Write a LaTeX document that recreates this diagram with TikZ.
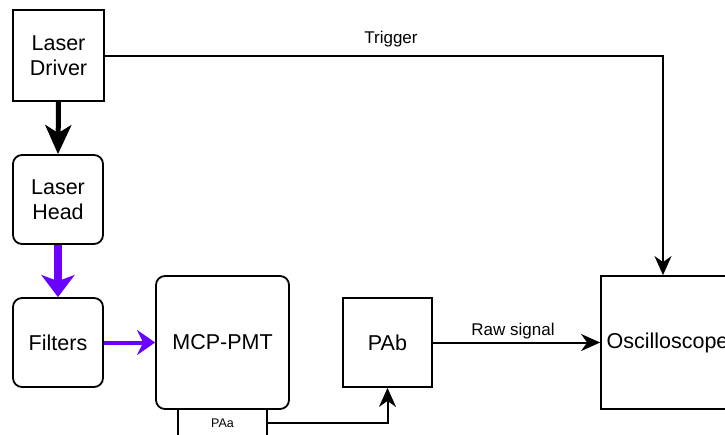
\documentclass[tikz,border=0pt]{standalone}
\usepackage{fontspec}
\setmainfont{Liberation Sans}
\usetikzlibrary{arrows.meta}
\definecolor{violetbeam}{HTML}{6A00FF}
\begin{document}
\begin{tikzpicture}[x=1pt,y=-1pt,
  box/.style={draw, line width=1.8pt, align=center, inner sep=0pt, font=\fontsize{21.5}{25}\selectfont},
  rbox/.style={box, rounded corners=9pt},
  lbl/.style={font=\fontsize{17}{20}\selectfont, inner sep=0pt},
  conn/.style={line width=2pt, -{Stealth[length=19pt,width=17pt,inset=6pt]}},
  thickarr/.style={line width=5pt, -{Stealth[length=29pt,width=26pt,inset=8pt]}},
  beam/.style={color=violetbeam}
]
\clip (0,0) rectangle (725,434);
\fill[white] (0,0) rectangle (725,434);

\node[box, minimum width=91pt, minimum height=91pt] (ld) at (58.5,55.5) {Laser\\Driver};
\node[rbox, minimum width=90pt, minimum height=89pt] (lh) at (58,199.5) {Laser\\Head};
\node[rbox, minimum width=90pt, minimum height=89pt] (fi) at (58,342.5) {Filters};
\node[rbox, minimum width=133pt, minimum height=133pt] (mcp) at (222.5,342.5) {MCP-PMT};
\node[box, minimum width=89pt, minimum height=28pt, font=\fontsize{12.5}{14}\selectfont] (paa) at (222.5,423) {PAa};
\node[box, minimum width=89pt, minimum height=89pt] (pab) at (387.5,342.5) {PAb};
\node[box, minimum width=133pt, minimum height=133pt] (osc) at (667.5,342.5) {Oscilloscope};

\coordinate (tk) at (663,55.5);

\draw[thickarr] (ld.south) -- (lh.north);
\draw[beam, line width=8pt, -{Stealth[length=22pt,width=33pt,inset=6pt]}] (lh.south) -- (fi.north);
\draw[beam, line width=4pt, -{Stealth[length=18pt,width=25pt,inset=6pt]}] (fi.east) -- (mcp.west);
\draw[conn] (ld.east) -- (tk) -- (tk |- osc.north);
\draw[conn] (paa.east) -| (pab.south);
\draw[conn] (pab.east) -- (osc.west);

\node[lbl] (trig) at (391,39) {Trigger};
\node[lbl] (raw) at (513,331) {Raw signal};
\end{tikzpicture}
\end{document}
